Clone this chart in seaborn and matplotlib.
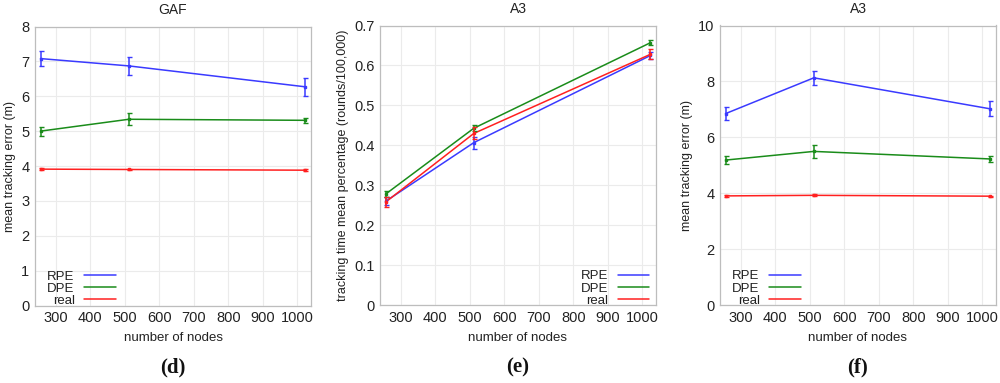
import numpy as np
import pandas as pd
import matplotlib
matplotlib.use("Agg")
import matplotlib.pyplot as plt
import seaborn as sns

nodes = [256, 512, 1024]
series = ["RPE", "DPE", "real"]
colors = {"RPE": "#3a3aff", "DPE": "#1a8c1a", "real": "#ff2020"}

# panel d (GAF, mean tracking error)
d_vals = {"RPE": [7.08, 6.87, 6.27], "DPE": [5.00, 5.34, 5.31], "real": [3.91, 3.90, 3.88]}
d_err = {"RPE": [0.22, 0.25, 0.26], "DPE": [0.13, 0.17, 0.08], "real": [0.02, 0.02, 0.02]}
# panel e (A3, tracking time)
e_vals = {"RPE": [0.260, 0.407, 0.625], "DPE": [0.278, 0.443, 0.657], "real": [0.258, 0.430, 0.628]}
e_err = {"RPE": [0.010, 0.015, 0.008], "DPE": [0.008, 0.007, 0.006], "real": [0.013, 0.015, 0.012]}
# panel f (A3, mean tracking error)
f_vals = {"RPE": [6.85, 8.13, 7.02], "DPE": [5.19, 5.50, 5.23], "real": [3.91, 3.93, 3.90]}
f_err = {"RPE": [0.22, 0.25, 0.27], "DPE": [0.15, 0.22, 0.10], "real": [0.03, 0.03, 0.02]}

titles = ["GAF", "A3", "A3"]
ylabels = ["mean tracking error (m)", "tracking time mean percentage (rounds/100,000)", "mean tracking error (m)"]
xlabel = "number of nodes"
panel_labels = ["(d)", "(e)", "(f)"]
ylims = [(0, 8), (0, 0.7), (0, 10)]
yticks = [np.arange(0, 9, 1), np.arange(0, 0.71, 0.1), np.arange(0, 11, 2)]
ytick_labels = [[str(i) for i in range(9)],
                ["0", "0.1", "0.2", "0.3", "0.4", "0.5", "0.6", "0.7"],
                ["0", "2", "4", "6", "8", "10"]]
xticks = [300, 400, 500, 600, 700, 800, 900, 1000]

sns.set_theme(style="white")
plt.rcParams['font.family'] = ['Liberation Sans', 'DejaVu Sans']

fig = plt.figure(figsize=(10, 3.83), dpi=100)
W, H = 1000, 383
boxes = [(35, 26.5, 311, 305.5), (380, 25.5, 656, 305.3), (720, 25.5, 996, 305.3)]
legend_anchor = [(0.035, -0.015), (0.985, -0.015), (0.035, -0.015)]
legend_locs = ["lower left", "lower right", "lower left"]

panels = [(d_vals, d_err), (e_vals, e_err), (f_vals, f_err)]
for i, ((vals, errs), (x0, y0, x1, y1)) in enumerate(zip(panels, boxes)):
    ax = fig.add_axes([x0 / W, 1 - y1 / H, (x1 - x0) / W, (y1 - y0) / H])
    rows = []
    for s in series:
        for n, v, e in zip(nodes, vals[s], errs[s]):
            rows.append({"nodes": n, "value": v, "err": e, "series": s})
    df = pd.DataFrame(rows)
    sns.lineplot(data=df, x="nodes", y="value", hue="series", hue_order=series,
                 palette=colors, ax=ax, linewidth=1.1, legend=True)
    for s in series:
        sub = df[df.series == s]
        ax.errorbar(sub["nodes"], sub["value"], yerr=sub["err"], fmt="none",
                    ecolor=colors[s], elinewidth=1.1, capsize=1.8, capthick=1.0)
        ax.plot(sub["nodes"], sub["value"], linestyle="none", marker="s",
                markersize=2, color=colors[s])
    ax.set_xlim(240, 1040)
    ax.set_ylim(*ylims[i])
    ax.set_xticks(xticks)
    ax.set_xticklabels([str(t) for t in xticks])
    ax.set_yticks(yticks[i])
    ax.set_yticklabels(ytick_labels[i])
    ax.grid(True, color="#ebebeb", linewidth=0.8)
    for sp in ax.spines.values():
        sp.set_color("#bdbdbd")
        sp.set_linewidth(0.9)
    ax.tick_params(axis="both", labelsize=10.5, colors="#222222", length=0, pad=4)
    ax.set_title(titles[i], fontsize=10, pad=9, color="#222222")
    ax.set_xlabel(xlabel, fontsize=9.5, color="#222222", labelpad=5)
    ax.set_ylabel(ylabels[i], fontsize=9, color="#222222", labelpad=4)
    leg = ax.legend(loc=legend_locs[i], bbox_to_anchor=legend_anchor[i],
                    frameon=False, markerfirst=False,
                    fontsize=9.5, handlelength=2.4, handletextpad=0.7,
                    labelspacing=0.0, borderaxespad=0.0, borderpad=0.2)
    for t in leg.get_texts():
        t.set_ha("right")
        t.set_color("#222222")
    leg._legend_box.align = "right"
    fig.text((x0 + x1) / 2 / W, 1 - 367 / H, panel_labels[i], ha="center", va="center",
             fontsize=15, fontweight="bold", family="Liberation Serif", color="#111111")

fig.savefig("out.png", dpi=100)
